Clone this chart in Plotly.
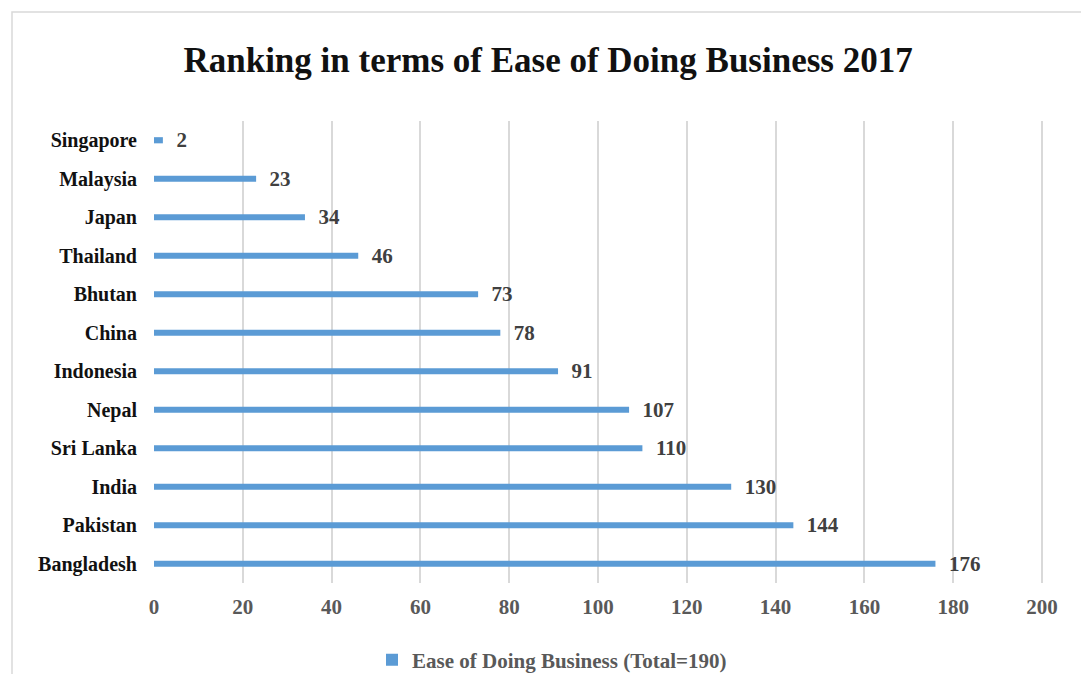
import plotly.graph_objects as go

countries = ["Singapore", "Malaysia", "Japan", "Thailand", "Bhutan", "China",
             "Indonesia", "Nepal", "Sri Lanka", "India", "Pakistan", "Bangladesh"]
ranks = [2, 23, 34, 46, 73, 78, 91, 107, 110, 130, 144, 176]
x_ticks = [0, 20, 40, 60, 80, 100, 120, 140, 160, 180, 200]
series_name = "Ease of Doing Business (Total=190)"
title_text = "Ranking in terms of Ease of Doing Business 2017"

FONT = "Liberation Serif"
W, H = 1081, 674
L, R, T, B = 154, 35, 121, 91
pw, ph = W - L - R, H - T - B

fig = go.Figure()
fig.add_trace(go.Bar(
    x=ranks, y=countries, orientation="h",
    name="<b>" + series_name + "</b>",
    marker=dict(color="#5B9BD5", line=dict(width=0)),
    text=ranks, texttemplate="  <b>%{x}</b>", textposition="outside",
    constraintext="none",
    textfont=dict(family=FONT, size=21, color="#404040"),
    cliponaxis=False,
    showlegend=True,
))

fig.update_layout(
    width=W, height=H,
    margin=dict(l=L, r=R, t=T, b=B),
    paper_bgcolor="white", plot_bgcolor="white",
    bargap=0.84,
    title=dict(text="<b>" + title_text + "</b>", x=0.507, xanchor="center",
               y=1 - 60 / H, yanchor="middle",
               font=dict(family=FONT, size=35, color="#111111")),
    xaxis=dict(range=[0, 200 * pw / (pw - 4)], tickvals=x_ticks, showgrid=True,
               tickmode="array", ticktext=["<b>%d</b>" % v for v in x_ticks],
               gridcolor="#D9D9D9", gridwidth=2, zeroline=False,
               showline=False, ticks="", ticklabelstandoff=9,
               tickfont=dict(family=FONT, size=21, color="#595959")),
    yaxis=dict(autorange="reversed", showgrid=False, zeroline=False,
               showline=False, ticks="", ticklabelstandoff=16,
               tickmode="array", tickvals=countries,
               ticktext=["<b>%s</b>" % c for c in countries],
               tickfont=dict(family=FONT, size=20, color="#111111")),
    legend=dict(orientation="h", x=(552 - L) / pw, xanchor="center",
                yref="container", y=(H - 660) / H, yanchor="middle",
                font=dict(family=FONT, size=21, color="#595959")),
    shapes=[dict(type="rect", xref="paper", yref="paper",
                 x0=(12 - L) / pw, x1=1.2, y0=-0.5, y1=(H - B - 12) / ph,
                 line=dict(color="#D9D9D9", width=1.5), layer="below")],
)

fig.write_html("out.html")
